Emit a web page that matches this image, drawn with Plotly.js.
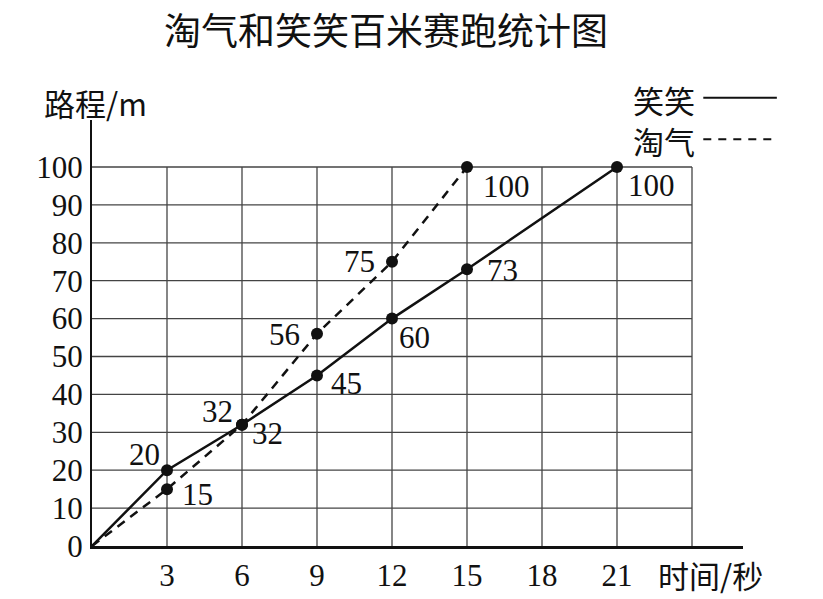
<!DOCTYPE html>
<html>
<head>
<meta charset="utf-8">
<script src="https://cdn.plot.ly/plotly-3.0.1.min.js"></script>
<style>html,body{margin:0;padding:0;background:#fff;}#chart{width:823px;height:599px;}</style>
</head>
<body>
<div id="chart"></div>
<script>
// ---- data ----
var titleText = '淘气和笑笑百米赛跑统计图';
var xAxisTitle = '时间/秒';
var yAxisTitle = '路程/m';
var xTickVals = [3, 6, 9, 12, 15, 18, 21];
var yTickVals = [0, 10, 20, 30, 40, 50, 60, 70, 80, 90, 100];
var gridX = [3, 6, 9, 12, 15, 18, 21, 24];
var gridY = [10, 20, 30, 40, 50, 60, 70, 80, 90, 100];
var xiaoName = '笑笑';
var xiaoTime = [0, 3, 6, 9, 12, 15, 21];
var xiaoDist = [0, 20, 32, 45, 60, 73, 100];
var taoName = '淘气';
var taoTime = [0, 3, 6, 9, 12, 15];
var taoDist = [0, 15, 32, 56, 75, 100];

// ---- styles (label offsets in px, null = no label; marker sizes) ----
var xiaoLabelDx = [null, -23, 25, 29, 22, 35, 34];
var xiaoLabelDy = [null, 16, -9, -8, -19, -1, -18];
var taoLabelDx = [null, 30, -25, -33, -33, 39];
var taoLabelDy = [null, -5, 13, -1, 0, -19];
var xiaoMarkerSize = [0, 12, 12, 12, 12, 12, 12];
var taoMarkerSize = [0, 12, 12, 12, 12, 12];

var serif = 'Liberation Serif, Times New Roman, serif';
var cjk = 'Noto Sans CJK SC, sans-serif';

var traces = [
  {x: xiaoTime, y: xiaoDist, name: xiaoName, mode: 'lines+markers', type: 'scatter',
   line: {color: '#111', width: 2.5},
   marker: {color: '#111', size: xiaoMarkerSize, opacity: 1, line: {width: 0}}, cliponaxis: false},
  {x: taoTime, y: taoDist, name: taoName, mode: 'lines+markers', type: 'scatter',
   line: {color: '#111', width: 2.5, dash: '9px,7px'},
   marker: {color: '#111', size: taoMarkerSize, opacity: 1, line: {width: 0}}, cliponaxis: false}
];

var shapes = [];
gridX.forEach(function (gx) {
  shapes.push({type: 'line', xref: 'x', yref: 'y', x0: gx, x1: gx, y0: 0, y1: gridY[gridY.length - 1],
    line: {color: '#444', width: 1.3}, layer: 'below'});
});
gridY.forEach(function (gy) {
  shapes.push({type: 'line', xref: 'x', yref: 'y', x0: 0, x1: gridX[gridX.length - 1], y0: gy, y1: gy,
    line: {color: '#444', width: 1.3}, layer: 'below'});
});

var annotations = [];
function addLabels(xs, ys, dxs, dys) {
  for (var i = 0; i < xs.length; i++) {
    if (dxs[i] === null) continue;
    annotations.push({x: xs[i], y: ys[i], xref: 'x', yref: 'y', text: String(ys[i]), showarrow: false,
      xanchor: 'center', yanchor: 'middle', xshift: dxs[i], yshift: dys[i],
      font: {family: serif, size: 31, color: '#111'}});
  }
}
addLabels(xiaoTime, xiaoDist, xiaoLabelDx, xiaoLabelDy);
addLabels(taoTime, taoDist, taoLabelDx, taoLabelDy);

// axis titles
annotations.push({xref: 'paper', yref: 'paper', x: -0.077, y: 1.042, xanchor: 'left', yanchor: 'middle',
  text: yAxisTitle, showarrow: false, font: {family: cjk, size: 31, color: '#111'}});
annotations.push({xref: 'paper', yref: 'paper', x: 0.866, y: -0.066, xanchor: 'left', yanchor: 'middle',
  text: xAxisTitle, showarrow: false, font: {family: cjk, size: 31, color: '#111'}});

// legend (text + line sample)
annotations.push({xref: 'paper', yref: 'paper', x: 0.828, y: 1.047, xanchor: 'left', yanchor: 'middle',
  text: xiaoName, showarrow: false, font: {family: cjk, size: 31, color: '#111'}});
annotations.push({xref: 'paper', yref: 'paper', x: 0.828, y: 0.953, xanchor: 'left', yanchor: 'middle',
  text: taoName, showarrow: false, font: {family: cjk, size: 31, color: '#111'}});
shapes.push({type: 'line', xref: 'paper', yref: 'paper', x0: 0.939, x1: 1.052, y0: 1.052, y1: 1.052,
  line: {color: '#111', width: 2}});
shapes.push({type: 'line', xref: 'paper', yref: 'paper', x0: 0.939, x1: 1.052, y0: 0.955, y1: 0.955,
  line: {color: '#111', width: 2, dash: '8px,7px'}});

var layout = {
  width: 823, height: 599,
  paper_bgcolor: '#fff', plot_bgcolor: '#fff',
  margin: {l: 92, r: 80, t: 120, b: 53},
  showlegend: false,
  title: {text: titleText, x: 0.469, xanchor: 'center', y: 0.947, yanchor: 'middle',
    font: {family: cjk, size: 37, color: '#111'}},
  xaxis: {range: [0, 26.04], tickvals: xTickVals, ticktext: xTickVals.map(String),
    showgrid: false, zeroline: false, showline: true, linecolor: '#111', linewidth: 3,
    ticks: '', ticklabelstandoff: 0, tickfont: {family: serif, size: 31, color: '#111'}, fixedrange: true},
  yaxis: {range: [0, 112.4], tickvals: yTickVals, ticktext: yTickVals.map(String),
    showgrid: false, zeroline: false, showline: true, linecolor: '#111', linewidth: 2,
    ticks: '', ticklabelstandoff: 1, tickfont: {family: serif, size: 31, color: '#111'}, fixedrange: true},
  shapes: shapes,
  annotations: annotations
};

Plotly.newPlot('chart', traces, layout, {staticPlot: true, displayModeBar: false});
</script>
</body>
</html>
